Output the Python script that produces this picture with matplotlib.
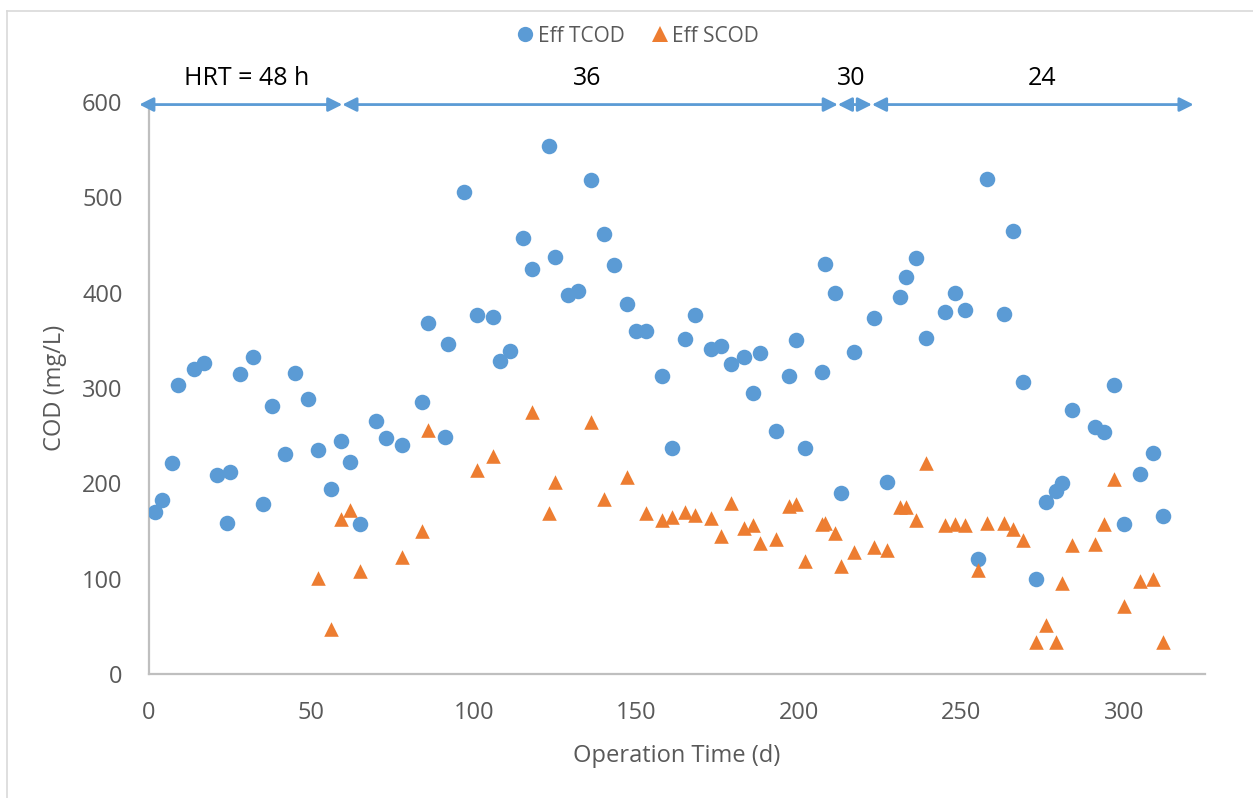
import matplotlib.pyplot as plt
from matplotlib.lines import Line2D

plt.rcParams['font.family'] = ['Open Sans', 'DejaVu Sans']

# Effluent total COD (day, mg/L)
tcod_day = [2, 4, 7, 9, 14, 17, 21, 24, 25, 28, 32, 35, 38, 42, 45, 49, 52, 56, 59, 62,
            65, 70, 73, 78, 84, 86, 91, 92, 97, 101, 106, 108, 111, 115, 118, 123, 125, 129, 132, 136,
            140, 143, 147, 150, 153, 158, 161, 165, 168, 173, 176, 179, 183, 186, 188, 193, 197, 199, 202, 207,
            208, 211, 213, 217, 223, 227, 231, 233, 236, 239, 245, 248, 251, 255, 258, 263, 266, 269, 273, 276,
            279, 281, 284, 291, 294, 297, 300, 305, 309, 312]
tcod = [170, 183, 221, 303, 320, 326, 209, 159, 212, 315, 333, 178, 281, 231, 316, 288, 235, 194, 244, 222,
        157, 265, 248, 240, 285, 368, 249, 346, 505, 376, 374, 328, 339, 457, 425, 554, 437, 397, 402, 518,
        461, 429, 388, 360, 360, 313, 237, 351, 376, 341, 344, 325, 332, 295, 337, 255, 313, 350, 237, 317,
        430, 400, 190, 338, 373, 202, 395, 416, 436, 352, 380, 400, 382, 121, 519, 378, 465, 306, 100, 181,
        192, 200, 277, 259, 254, 303, 158, 210, 232, 166]

# Effluent soluble COD (day, mg/L)
scod_day = [52, 56, 59, 62, 65, 78, 84, 86, 101, 106, 118, 123, 125, 136, 140, 147, 153, 158, 161, 165,
            168, 173, 176, 179, 183, 186, 188, 193, 197, 199, 202, 207, 208, 211, 213, 217, 223, 227, 231, 233,
            236, 239, 245, 248, 251, 255, 258, 263, 266, 269, 273, 276, 279, 281, 284, 291, 294, 297, 300, 305,
            309, 312]
scod = [101, 47, 163, 172, 108, 123, 150, 256, 214, 229, 275, 169, 202, 264, 184, 207, 169, 162, 165, 170,
        167, 164, 145, 179, 153, 156, 138, 142, 176, 178, 119, 157, 159, 148, 114, 128, 133, 130, 175, 175,
        162, 221, 156, 157, 156, 109, 159, 159, 152, 141, 34, 52, 34, 96, 136, 137, 158, 205, 72, 98,
        100, 34]

# HRT phases
phase_edges = [-3, 59.5, 212, 222.5, 321.5]
phase_labels = ['HRT = 48 h', '36', '30', '24']
phase_label_x = [30, 135, 216, 275]

blue = '#5B9BD5'
orange = '#ED7D31'
grey = '#595959'

fig = plt.figure(figsize=(12.53, 7.98), dpi=100)
ax = fig.add_axes([149 / 1253, 1 - 674.3 / 798, (1205 - 149) / 1253, (674.3 - 101.7) / 798])

ax.scatter(tcod_day, tcod, s=125, marker='o', color=blue, linewidths=0, zorder=3)
ax.scatter(scod_day, scod, s=110, marker='^', color=orange, linewidths=0, zorder=3)

ax.set_xlim(0, 325)
ax.set_ylim(0, 600)
ax.set_xticks(range(0, 301, 50))
ax.set_yticks(range(0, 601, 100))
for s in ['top', 'right']:
    ax.spines[s].set_visible(False)
for s in ['left', 'bottom']:
    ax.spines[s].set_color('#BFBFBF')
    ax.spines[s].set_linewidth(1.6)
ax.tick_params(axis='both', length=0, labelsize=17, colors=grey)
ax.tick_params(axis='y', pad=19)
ax.tick_params(axis='x', pad=19)

ax.set_xlabel('Operation Time (d)', fontsize=17, color=grey, labelpad=14)
ax.set_ylabel('COD (mg/L)', fontsize=17, color=grey, labelpad=11)

# phase arrows
arrow_y = 597
for x0, x1 in zip(phase_edges[:-1], phase_edges[1:]):
    ax.annotate('', xy=(x1, arrow_y), xytext=(x0, arrow_y),
                arrowprops=dict(arrowstyle='<|-|>,head_length=0.6,head_width=0.3',
                                color=blue, lw=2, shrinkA=0, shrinkB=0, mutation_scale=14),
                annotation_clip=False, zorder=4)
for lab, xl in zip(phase_labels, phase_label_x):
    ax.text(xl, 624, lab, fontsize=18, ha='center', va='center', color='black', clip_on=False)

handles = [Line2D([], [], marker='o', ls='', color=blue, markersize=11, markeredgewidth=0),
           Line2D([], [], marker='^', ls='', color=orange, markersize=11, markeredgewidth=0)]
leg = fig.legend(handles, ['Eff TCOD', 'Eff SCOD'], loc='center', bbox_to_anchor=(637 / 1253, 1 - 36 / 798),
                 ncol=2, frameon=False, fontsize=15, handletextpad=0.1, columnspacing=1.2, handlelength=1.0)
for t in leg.get_texts():
    t.set_color(grey)

# chart area border
fig.add_artist(Line2D([7 / 1253, 7 / 1253], [0, 1 - 11 / 798], color='#D9D9D9', lw=1.2))
fig.add_artist(Line2D([7 / 1253, 1], [1 - 11 / 798, 1 - 11 / 798], color='#D9D9D9', lw=1.2))

fig.savefig('out.png', dpi=100)
